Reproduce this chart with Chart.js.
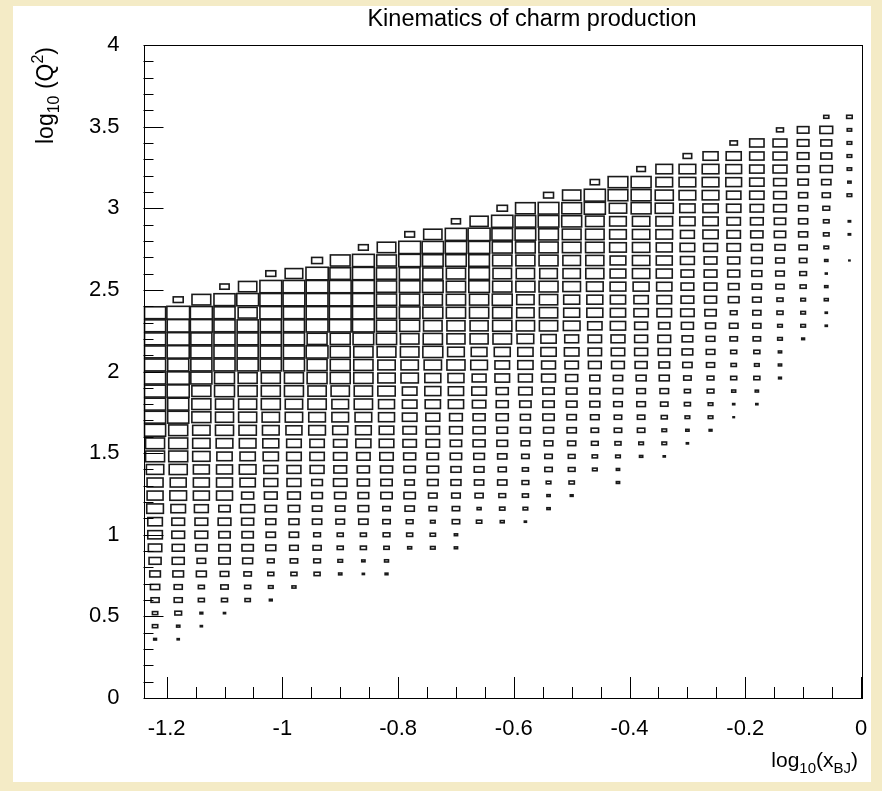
<!DOCTYPE html>
<html>
<head>
<meta charset="utf-8">
<title>Kinematics of charm production</title>
<script src="https://cdn.jsdelivr.net/npm/chart.js@4.4.1/dist/chart.umd.min.js"></script>
<style>
  html, body { margin: 0; padding: 0; }
  body { width: 882px; height: 791px; background: #f4ebc6; position: relative; overflow: hidden; }
  #pad { position: absolute; left: 13px; top: 6px; width: 858px; height: 776px; background: #fff; }
  #pad canvas { display: block; }
</style>
</head>
<body>
<div id="pad"><canvas id="kinematics" width="858" height="776"></canvas></div>
<script>
// binning of the 2D histogram: log10(x_BJ) in 0.04 wide bins from -1.24,
// log10(Q^2) in 0.08 wide bins from 0
const xBinLow = -1.24;
const xBinWidth = 0.04;
const yBinWidth = 0.08;
const zMax = 100;

const xTickValues = [-1.2, -1, -0.8, -0.6, -0.4, -0.2, 0];
const xTickLabels = ["-1.2", "-1", "-0.8", "-0.6", "-0.4", "-0.2", "0"];
const yTickValues = [0, 0.5, 1, 1.5, 2, 2.5, 3, 3.5, 4];
const yTickLabels = ["0", "0.5", "1", "1.5", "2", "2.5", "3", "3.5", "4"];

// first filled Q^2 bin of every x bin
const firstRow = [4, 4, 5, 6, 7, 7, 8, 9, 9, 9, 9, 11, 11, 11, 13, 13, 13, 14, 15, 17, 16, 18, 18, 19, 20, 21, 22, 24, 27, 28, 33];

// bin contents per x bin, going up in Q^2 from firstRow (0 = empty bin)
const cellContent = [
	[12, 23, 23, 35, 40, 46, 52, 58, 63, 63, 72, 69, 69, 75, 82, 82, 91, 91, 91, 91, 91, 91, 91, 91, 91, 91],
	[9, 14, 29, 35, 35, 46, 52, 52, 55, 55, 63, 72, 69, 78, 82, 82, 82, 91, 91, 95, 95, 91, 95, 95, 95, 98, 43],
	[9, 12, 26, 26, 43, 37, 49, 55, 55, 60, 69, 69, 69, 75, 75, 75, 82, 82, 82, 91, 91, 91, 91, 95, 95, 81],
	[9, 26, 32, 37, 49, 49, 49, 55, 49, 69, 69, 69, 66, 72, 78, 78, 78, 86, 86, 91, 91, 91, 91, 91, 91, 40],
	[23, 26, 32, 43, 49, 49, 52, 60, 52, 66, 72, 66, 72, 75, 78, 78, 82, 82, 91, 91, 91, 91, 82, 94, 79],
	[12, 20, 26, 29, 43, 40, 43, 49, 55, 60, 60, 66, 69, 72, 75, 82, 82, 82, 91, 91, 91, 91, 94, 94, 94, 43],
	[17, 26, 32, 37, 40, 43, 49, 55, 60, 60, 63, 63, 69, 75, 75, 82, 82, 91, 91, 91, 91, 91, 94, 94, 76],
	[26, 29, 35, 29, 40, 40, 46, 46, 60, 62, 62, 72, 72, 79, 79, 86, 86, 94, 86, 94, 94, 94, 94, 96, 47],
	[14, 20, 26, 26, 37, 40, 49, 58, 55, 58, 58, 65, 72, 72, 79, 86, 86, 86, 86, 94, 94, 94, 94, 89, 85],
	[9, 14, 26, 26, 40, 46, 46, 52, 52, 58, 65, 68, 72, 79, 79, 83, 83, 83, 89, 94, 94, 94, 94, 94, 94, 42],
	[12, 17, 23, 29, 32, 32, 49, 49, 52, 58, 63, 63, 69, 69, 75, 75, 75, 81, 87, 87, 87, 87, 87, 87, 85, 80],
	[17, 26, 29, 40, 49, 40, 49, 52, 58, 58, 63, 63, 63, 75, 75, 80, 80, 86, 89, 86, 89, 89, 94, 94, 42],
	[20, 23, 20, 32, 37, 46, 50, 49, 58, 58, 60, 66, 69, 69, 75, 86, 83, 80, 86, 83, 89, 86, 89, 92, 79],
	[14, 14, 32, 32, 37, 43, 43, 49, 49, 55, 55, 66, 66, 69, 78, 72, 78, 78, 83, 83, 83, 83, 89, 92, 92, 39],
	[23, 17, 35, 40, 42, 46, 52, 52, 52, 58, 63, 60, 72, 68, 78, 78, 83, 83, 89, 89, 89, 92, 95, 78],
	[17, 23, 29, 40, 35, 40, 46, 46, 52, 52, 52, 63, 63, 69, 80, 83, 83, 86, 83, 80, 83, 86, 89, 92, 45],
	[9, 20, 26, 29, 26, 32, 37, 43, 43, 49, 58, 60, 66, 66, 72, 79, 75, 75, 82, 79, 82, 85, 89, 89, 85],
	[14, 14, 20, 32, 32, 37, 43, 49, 49, 49, 60, 60, 66, 66, 79, 79, 79, 82, 76, 82, 83, 85, 89, 89, 43],
	[12, 23, 29, 29, 35, 40, 40, 46, 46, 52, 58, 63, 60, 72, 69, 69, 76, 75, 76, 80, 81, 86, 85, 79],
	[20, 23, 29, 32, 37, 43, 43, 43, 55, 58, 58, 62, 69, 69, 72, 78, 78, 80, 80, 80, 91, 91, 40],
	[14, 14, 20, 26, 32, 32, 37, 40, 40, 55, 58, 60, 66, 66, 66, 68, 68, 68, 72, 72, 72, 75, 85, 85],
	[14, 20, 32, 32, 37, 37, 43, 52, 56, 56, 56, 62, 62, 69, 75, 75, 75, 75, 75, 86, 86, 86, 37],
	[9, 20, 20, 26, 32, 37, 43, 46, 52, 55, 49, 63, 63, 66, 69, 69, 69, 72, 72, 78, 78, 72, 72],
	[9, 14, 20, 26, 26, 32, 40, 46, 46, 52, 58, 55, 55, 55, 60, 63, 60, 66, 66, 72, 72, 72, 37],
	[12, 20, 20, 29, 29, 35, 37, 37, 43, 49, 52, 55, 55, 55, 60, 66, 66, 66, 72, 72, 72, 65],
	[6, 9, 17, 26, 23, 26, 32, 37, 29, 46, 46, 52, 52, 58, 58, 58, 62, 62, 68, 68, 65, 32],
	[9, 14, 26, 20, 26, 32, 35, 35, 37, 40, 43, 46, 47, 53, 55, 58, 62, 62, 62, 62, 62],
	[12, 14, 14, 20, 20, 26, 26, 35, 37, 37, 43, 49, 49, 55, 55, 55, 60, 60, 60, 30],
	[12, 20, 20, 20, 26, 29, 32, 35, 39, 39, 39, 39, 45, 50, 50, 50, 50],
	[9, 9, 17, 14, 8, 14, 20, 24, 24, 29, 35, 40, 52, 47, 47, 55, 22],
	[5, 0, 10, 10, 0, 20, 14, 19, 20, 20, 19, 24]
];

const FONT = "'Liberation Sans', Arial, Helvetica, sans-serif";

// one point per filled bin, at the bin centre
const cells = [];
cellContent.forEach((col, i) => {
	col.forEach((v, k) => {
		if (!v) return;
		cells.push({
			x: xBinLow + (i + 0.5) * xBinWidth,
			y: (firstRow[i] + k + 0.5) * yBinWidth,
			v: v,
		});
	});
});

// draw text with sub/superscript pieces, e.g. log_{10}(Q^{2})
function drawRichText(ctx, parts, x, y, size, align) {
	const small = Math.round(size * 0.7);
	let total = 0;
	parts.forEach((p) => {
		ctx.font = `${p.sub || p.sup ? small : size}px ${FONT}`;
		p.w = ctx.measureText(p.t).width;
		total += p.w;
	});
	let cx = align === "right" ? x - total : x;
	ctx.textAlign = "left";
	ctx.textBaseline = "alphabetic";
	parts.forEach((p) => {
		ctx.font = `${p.sub || p.sup ? small : size}px ${FONT}`;
		let dy = 0;
		if (p.sub) dy = size * 0.28;
		if (p.sup) dy = -size * 0.45;
		ctx.fillText(p.t, cx, y + dy);
		cx += p.w;
	});
}

const boxHistPlugin = {
	id: "boxHist",
	afterDatasetsDraw(chart) {
		const { ctx, scales } = chart;
		const xs = scales.x;
		const ys = scales.y;
		ctx.save();
		ctx.strokeStyle = "#1a1a1a";
		ctx.lineWidth = 1.6;
		chart.data.datasets[0].data.forEach((c) => {
			const f = c.v / zMax;
			const x0 = xs.getPixelForValue(c.x - 0.5 * xBinWidth * f);
			const x1 = xs.getPixelForValue(c.x + 0.5 * xBinWidth * f);
			const y0 = ys.getPixelForValue(c.y - 0.5 * yBinWidth * f);
			const y1 = ys.getPixelForValue(c.y + 0.5 * yBinWidth * f);
			ctx.strokeRect(x0, y1, x1 - x0, y0 - y1);
		});
		ctx.restore();
	},
	afterDraw(chart) {
		const { ctx, chartArea: a, scales } = chart;
		const xs = scales.x;
		const ys = scales.y;
		ctx.save();
		ctx.strokeStyle = "#000";
		ctx.lineWidth = 1;

		// frame
		ctx.strokeRect(Math.round(a.left) + 0.5, Math.round(a.top) + 0.5,
			Math.round(a.right - a.left), Math.round(a.bottom - a.top));

		// ticks point into the frame
		ctx.beginPath();
		for (let k = -24; k <= 0; k++) {
			const v = k * 0.05;
			if (v < xs.min) continue;
			const px = Math.round(xs.getPixelForValue(v)) + 0.5;
			const len = k % 4 === 0 ? 21 : 11;
			ctx.moveTo(px, a.bottom);
			ctx.lineTo(px, a.bottom - len);
		}
		for (let k = 0; k <= 40; k++) {
			const py = Math.round(ys.getPixelForValue(k * 0.1)) + 0.5;
			const len = k % 5 === 0 ? 20 : 10;
			ctx.moveTo(a.left, py);
			ctx.lineTo(a.left + len, py);
		}
		ctx.stroke();

		// titles
		ctx.fillStyle = "#000";
		ctx.font = `23.5px ${FONT}`;
		ctx.textAlign = "center";
		ctx.textBaseline = "alphabetic";
		ctx.fillText("Kinematics of charm production", 519, 20);

		drawRichText(ctx, [
			{ t: "log" }, { t: "10", sub: true }, { t: "(x" }, { t: "BJ", sub: true }, { t: ")" },
		], 845, 761, 21, "right");

		ctx.translate(40, 41);
		ctx.rotate(-Math.PI / 2);
		drawRichText(ctx, [
			{ t: "log" }, { t: "10", sub: true }, { t: " (Q" }, { t: "2", sup: true }, { t: ")" },
		], 0, 0, 23, "right");
		ctx.restore();
	},
};

document.addEventListener("DOMContentLoaded", function () {
	const ctx = document.getElementById("kinematics").getContext("2d");
	new Chart(ctx, {
		type: "scatter",
		data: {
			datasets: [
				{
					label: "charm",
					data: cells,
					pointRadius: 0,
					pointHoverRadius: 0,
				},
			],
		},
		options: {
			responsive: false,
			animation: false,
			events: [],
			layout: { padding: { top: 39, right: 10, left: 0, bottom: 0 } },
			plugins: {
				legend: { display: false },
				tooltip: { enabled: false },
				title: { display: false },
			},
			scales: {
				x: {
					type: "linear",
					min: -1.24,
					max: 0,
					grid: { display: false },
					border: { display: false },
					afterBuildTicks: (s) => {
						s.ticks = xTickValues.map((v) => ({ value: v }));
					},
					afterFit: (s) => {
						s.height = 84;
						s.paddingLeft = 0;
						s.paddingRight = 0;
					},
					ticks: {
						padding: 10,
						color: "#000",
						maxRotation: 0,
						autoSkip: false,
						font: { family: FONT, size: 22 },
						callback: (v, i) => xTickLabels[i],
					},
				},
				y: {
					type: "linear",
					min: 0,
					max: 4,
					grid: { display: false },
					border: { display: false },
					afterBuildTicks: (s) => {
						s.ticks = yTickValues.map((v) => ({ value: v }));
					},
					afterFit: (s) => {
						s.width = 130.5;
					},
					ticks: {
						padding: 16,
						color: "#000",
						autoSkip: false,
						font: { family: FONT, size: 22 },
						callback: (v, i) => yTickLabels[i],
					},
				},
			},
		},
		plugins: [boxHistPlugin],
	});
});
</script>
</body>
</html>
